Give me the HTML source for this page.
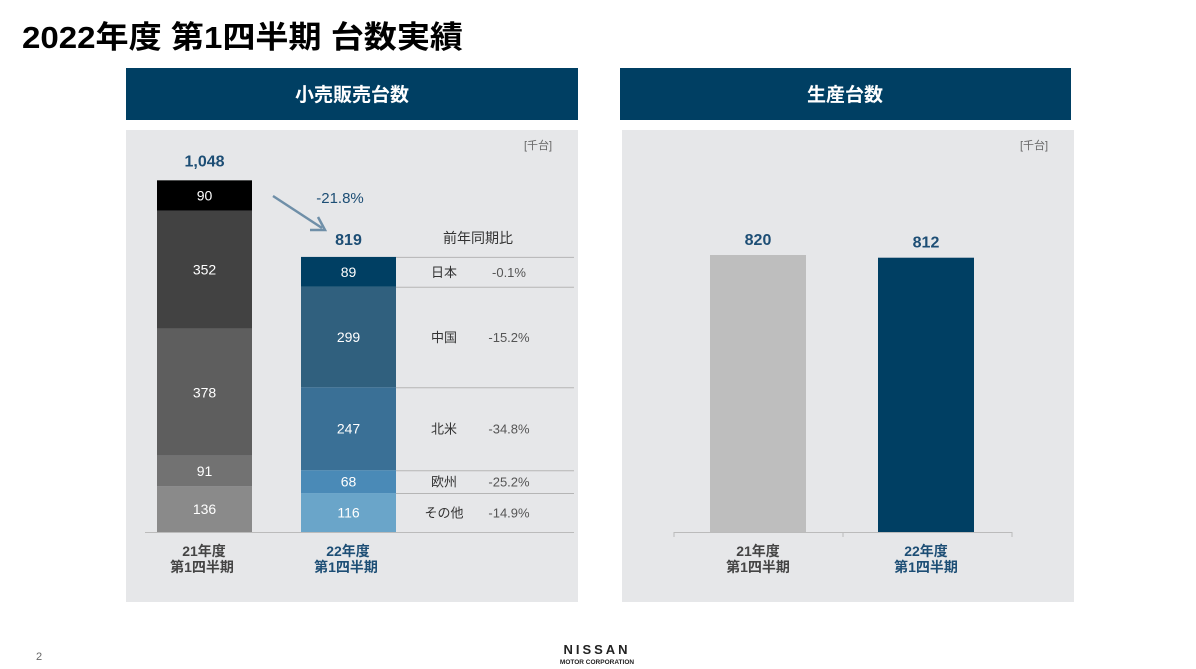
<!DOCTYPE html>
<html><head><meta charset="utf-8">
<style>
body{margin:0;width:1196px;height:669px;background:#fff;overflow:hidden;font-family:"Liberation Sans","Noto Sans CJK JP",sans-serif;}
svg{display:block}
</style></head>
<body>
<svg id="c" width="1196" height="669" viewBox="0 0 1196 669" xmlns="http://www.w3.org/2000/svg" font-family="Liberation Sans, Noto Sans CJK JP, sans-serif">
<text x="22" y="48" font-size="31" font-weight="bold" fill="#000" textLength="441" lengthAdjust="spacingAndGlyphs">2022年度 第1四半期 台数実績</text>
<rect x="126" y="68" width="452" height="52" fill="#003f63"/>
<text x="352" y="101" font-size="19" fill="#fff" text-anchor="middle" font-weight="bold">小売販売台数</text>
<rect x="620" y="68" width="451" height="52" fill="#003f63"/>
<text x="845" y="101" font-size="19" fill="#fff" text-anchor="middle" font-weight="bold">生産台数</text>
<rect x="126" y="130" width="452" height="472" fill="#e6e7e9"/>
<rect x="622" y="130" width="452" height="472" fill="#e6e7e9"/>
<text x="538" y="149" font-size="11" fill="#666" text-anchor="middle">[千台]</text>
<text x="1034" y="149" font-size="11" fill="#666" text-anchor="middle">[千台]</text>
<g id="left"></g>
<g id="right"></g>
<text x="36" y="660" font-size="11" fill="#666">2</text>
<text x="597" y="654" font-size="13" font-weight="bold" fill="#222" text-anchor="middle" letter-spacing="3">NISSAN</text>
<text x="597" y="664" font-size="6.5" font-weight="bold" fill="#222" text-anchor="middle">MOTOR CORPORATION</text>
</svg>
<script>
const regions=["日本","中国","北米","欧州","その他"];
const retail21=[90,352,378,91,136];
const retail22=[89,299,247,68,116];
const yoy=["-0.1%","-15.2%","-34.8%","-25.2%","-14.9%"];
const totals=["1,048","819"];
const change="-21.8%";
const prodCats=["21年度","22年度"];
const prodVals=[820,812];
const NS="http://www.w3.org/2000/svg";
function mk(tag,attrs,parent,text){const e=document.createElementNS(NS,tag);for(const k in attrs)e.setAttribute(k,attrs[k]);if(text!==undefined)e.textContent=text;parent.appendChild(e);return e;}
const base=532, sc=352/1048;
const y=v=>base-v*sc;
const L=document.getElementById('left');
const c21=["#8a8a8a","#727272","#5e5e5e","#424242","#000"];
const c22=["#6aa5c9","#4a8ab7","#3a7096","#30607e","#003f63"];
function stack(vals,x,cols,prefix,withTable){
  let cum=0;
  for(let k=4;k>=0;k--){
    const v=vals[k];const y0=y(cum),y1=y(cum+v);cum+=v;
    const r=mk('rect',{x:x,y:y1,width:95,height:y0-y1,fill:cols[4-k]},L);
    
    
    const t=mk('text',{x:x+47.5,y:(y0+y1)/2+5,'font-size':14,fill:'#fff','text-anchor':'middle'},L,String(v));
    
    
    if(withTable){
      const ln=mk('line',{x1:396,x2:574,y1:y1+0.5,y2:y1+0.5,stroke:'#b5b5b5','stroke-width':1},L);
      
      
      const rn=mk('text',{x:444,y:(y0+y1)/2+5,'font-size':13,fill:'#333','text-anchor':'middle'},L,regions[k]);
      
      
      const pv=mk('text',{x:509,y:(y0+y1)/2+5,'font-size':13,fill:'#555','text-anchor':'middle'},L,yoy[k]);
      
      
    }
  }
  return cum;
}
const s21=stack(retail21,157,c21,'fy21',false);
const s22=stack(retail22,301,c22,'fy22',true);
let t=mk('text',{x:204.5,y:y(s21)-14,'font-size':16,'font-weight':'bold',fill:'#1d4e75','text-anchor':'middle'},L,totals[0]);


t=mk('text',{x:348.5,y:y(s22)-12,'font-size':16,'font-weight':'bold',fill:'#1d4e75','text-anchor':'middle'},L,totals[1]);


t=mk('text',{x:340,y:203,'font-size':15,fill:'#1d4e75','text-anchor':'middle'},L,change);


t=mk('text',{x:478,y:243,'font-size':14,fill:'#333','text-anchor':'middle'},L,"前年同期比");


let a=mk('path',{d:'M273 196 L322 228 M310 230 L325 230 L318 217',stroke:'#6f8fa8','stroke-width':2.5,fill:'none'},L);


let bl=mk('line',{x1:145,x2:574,y1:base+0.5,y2:base+0.5,stroke:'#bbb'},L);


[[204,"#444",prodCats[0]],[348,"#1d4e75",prodCats[1]]].forEach((p,i)=>{
  const g=mk('text',{x:p[0],y:556,'font-size':14,'font-weight':'bold',fill:p[1],'text-anchor':'middle'},L,p[2]);
  
  
  const g2=mk('text',{x:p[0]-2,y:572,'font-size':14,'font-weight':'bold',fill:p[1],'text-anchor':'middle'},L,"第1四半期");
  
  
});
const R=document.getElementById('right');
const ry=v=>base-v*(277/820);
const px=[710,878], pc=["#bebebe","#003f63"], tc=["#444","#1d4e75"];
prodVals.forEach((v,i)=>{
  const b=mk('rect',{x:px[i],y:ry(v),width:96,height:base-ry(v),fill:pc[i]},R);
  
  
  const l=mk('text',{x:px[i]+48,y:ry(v)-10,'font-size':16,'font-weight':'bold',fill:'#1d4e75','text-anchor':'middle'},R,String(v));
  
  
  const c1=mk('text',{x:px[i]+48,y:556,'font-size':14,'font-weight':'bold',fill:tc[i],'text-anchor':'middle'},R,prodCats[i]);
  
  
  const c2=mk('text',{x:px[i]+48,y:572,'font-size':14,'font-weight':'bold',fill:tc[i],'text-anchor':'middle'},R,"第1四半期");
  
  
});
bl=mk('path',{d:'M674 '+(base+0.5)+' H1012 M674 '+base+' v5 M843 '+base+' v5 M1012 '+base+' v5',stroke:'#bbb',fill:'none'},R);


</script>
</body></html>
